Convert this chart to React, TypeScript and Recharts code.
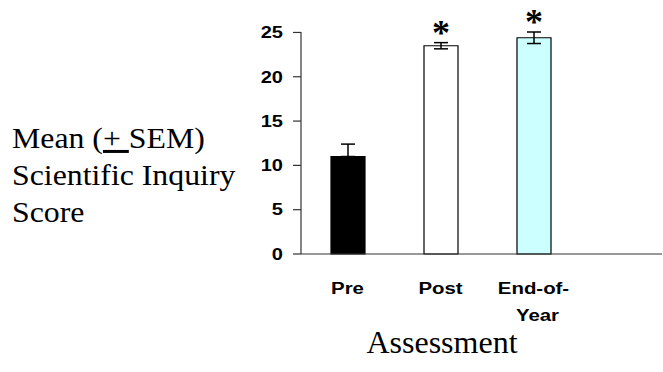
import { BarChart, Bar, XAxis, YAxis, Cell, ErrorBar, LabelList } from 'recharts';

const categories = ['Pre', 'Post', 'End-of-Year'];
const tickLines = [['Pre'], ['Post'], ['End-of-', 'Year']];
const means = [11.0, 23.5, 24.4];
const sem = [1.4, 0.35, 0.65];
const marks = ['', '*', '*'];
const fills = ['#000000', '#ffffff', '#ccffff'];
const yTicks = [0, 5, 10, 15, 20, 25];

const data = categories.map((name, i) => ({
	name,
	mean: means[i],
	err: i === 0 ? [0, sem[i]] : sem[i],
	mark: marks[i],
}));

const serif = '"Liberation Serif", "Times New Roman", serif';
const sans = '"Liberation Sans", Arial, sans-serif';

function YTick({ x, y, payload }: any) {
	return (
		<text
			transform={`translate(${x - 8},${y}) scale(1.25,1)`}
			textAnchor="end"
			dy="0.36em"
			fontFamily={sans}
			fontWeight="bold"
			fontSize={16}
			fill="#000">
			{payload.value}
		</text>
	);
}

function XTick({ x, y, index }: any) {
	const lines = tickLines[index] || [];
	return (
		<g>
			{lines.map((t, i) => (
				<text
					key={i}
					transform={`translate(${x + (i === 1 ? 4 : 0)},${y + 32 + i * 27}) scale(1.2,1)`}
					textAnchor="middle"
					fontFamily={sans}
					fontWeight="bold"
					fontSize={17}
					fill="#000">
					{t}
				</text>
			))}
		</g>
	);
}

function LeftLabel({ viewBox }: any) {
	const y0 = viewBox.y + 116;
	return (
		<text
			transform={`translate(${viewBox.x + 12},${y0}) scale(1.06,1)`}
			fontFamily={serif}
			fontSize={30}
			fill="#000">
			<tspan x={0} y={0}>
				Mean (
				<tspan style={{ textDecoration: 'underline', textDecorationThickness: '3px' }}>+ </tspan>
				SEM)
			</tspan>
			<tspan x={0} y={37}>
				Scientific Inquiry
			</tspan>
			<tspan x={0} y={74}>
				Score
			</tspan>
		</text>
	);
}

function BottomLabel({ viewBox }: any) {
	return (
		<text
			x={viewBox.x + 141}
			y={viewBox.y + 99}
			textAnchor="middle"
			fontFamily={serif}
			fontSize={32}
			fill="#000">
			Assessment
		</text>
	);
}

// asterisk above the error bar, positioned from the bar's own scale
function Star({ x, y, width, height, value, index }: any) {
	if (!value) return null;
	const perUnit = height / means[index];
	const top = y - sem[index] * perUnit;
	return (
		<text
			x={x + width / 2}
			y={top + 2}
			textAnchor="middle"
			fontFamily={serif}
			fontWeight="bold"
			fontSize={36}
			fill="#000">
			{value}
		</text>
	);
}

export default function App() {
	return (
		<div style={{ position: 'absolute', left: 0, top: 0, background: '#fff' }}>
			<BarChart
				width={663}
				height={372}
				data={data}
				barSize={34}
				margin={{ top: 32, right: 1, left: 0, bottom: 88 }}>
				<XAxis
					dataKey="name"
					height={30}
					tickLine={false}
					axisLine={{ stroke: '#333', strokeWidth: 1.2 }}
					padding={{ left: 0, right: 82 }}
					tick={<XTick />}
					interval={0}
					label={<BottomLabel />}
				/>
				<YAxis
					width={301}
					domain={[0, 25]}
					ticks={yTicks}
					tickSize={8}
					axisLine={{ stroke: '#333', strokeWidth: 1.2 }}
					tickLine={{ stroke: '#333', strokeWidth: 1.2 }}
					tick={<YTick />}
					label={<LeftLabel />}
				/>
				<Bar dataKey="mean" stroke="#000" strokeWidth={1.2} isAnimationActive={false}>
					{data.map((d, i) => (
						<Cell key={d.name} fill={fills[i]} />
					))}
					<ErrorBar dataKey="err" width={7} stroke="#000" strokeWidth={1.5} />
					<LabelList dataKey="mark" content={<Star />} />
				</Bar>
			</BarChart>
		</div>
	);
}
